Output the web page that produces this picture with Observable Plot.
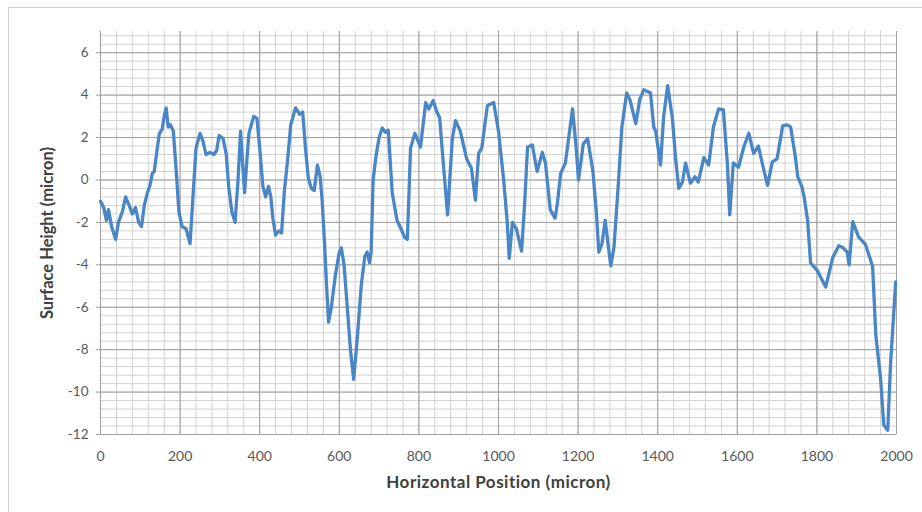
<!DOCTYPE html>
<html>
<head>
<meta charset="utf-8">
<script src="https://cdn.jsdelivr.net/npm/d3@7"></script>
<script src="https://cdn.jsdelivr.net/npm/@observablehq/plot@0.6"></script>
<style>
  html, body { margin: 0; padding: 0; background: #fff; }
  #wrap { position: relative; width: 922px; height: 512px; overflow: hidden; }
  #border { position: absolute; left: 8px; top: 7px; width: 940px; height: 540px; border: 1px solid #d0d0d0; pointer-events: none; }
  #chart { position: absolute; left: 0; top: 0; }
</style>
</head>
<body>
<div id="wrap"><div id="border"></div><div id="chart"></div></div>
<script>
// Horizontal position (micron)
const positions = [
  0, 8, 15, 20, 28, 38, 45, 55, 63, 72,
  80, 88, 96, 103, 110, 118, 125, 130, 135, 142,
  148, 155, 160, 165, 170, 176, 183, 190, 197, 205,
  215, 225, 230, 240, 250, 258, 265, 275, 285, 292,
  298, 308, 316, 322, 330, 338, 345, 352, 358, 362,
  368, 373, 385, 393, 400, 408, 415, 422, 428, 433,
  440, 448, 455, 462, 470, 478, 490, 500, 508, 515,
  522, 530, 537, 545, 552, 557, 563, 568, 573, 580,
  590, 600, 605, 612, 620, 628, 636, 645, 655, 664,
  670, 676, 680, 685, 692, 700, 708, 716, 723, 733,
  745, 755, 764, 771, 779, 790, 804, 817, 825, 836,
  845, 852, 860, 872, 884, 892, 904, 920, 932, 942,
  950, 958, 972, 988, 1000, 1013, 1022, 1027, 1035, 1045,
  1058, 1066, 1073, 1085, 1097, 1110, 1118, 1130, 1142, 1148,
  1156, 1168, 1186, 1195, 1201, 1213, 1224, 1237, 1246, 1252,
  1260, 1268, 1282, 1290, 1300, 1310, 1322, 1330, 1345, 1355,
  1365, 1382, 1390, 1395, 1407, 1415, 1425, 1437, 1445, 1453,
  1462, 1470, 1482, 1494, 1502, 1516, 1528, 1540, 1553, 1565,
  1575, 1581, 1590, 1603, 1617, 1629, 1641, 1653, 1665, 1676,
  1688, 1700, 1714, 1725, 1734, 1745, 1752, 1762, 1768, 1777,
  1784, 1802, 1822, 1840, 1855, 1866, 1876, 1881, 1890, 1905,
  1922, 1940, 1948, 1960, 1968, 1978, 1985, 1998
];
// Surface height (micron)
const heights = [
  -1.0, -1.3, -1.9, -1.4, -2.2, -2.8, -2.0, -1.5, -0.8, -1.2,
  -1.6, -1.3, -2.0, -2.2, -1.2, -0.6, -0.2, 0.3, 0.4, 1.4,
  2.2, 2.4, 3.0, 3.4, 2.5, 2.6, 2.3, 0.5, -1.5, -2.2,
  -2.3, -3.0, -1.5, 1.5, 2.2, 1.8, 1.2, 1.3, 1.2, 1.4,
  2.1, 1.95, 1.2, -0.3, -1.5, -2.0, -0.2, 2.3, 0.5, -0.6,
  1.0, 2.2, 3.0, 2.9, 1.5, -0.3, -0.8, -0.3, -0.8, -1.8,
  -2.6, -2.4, -2.5, -0.5, 0.9, 2.6, 3.4, 3.1, 3.2, 1.5,
  0.1, -0.4, -0.5, 0.7, 0.15, -1.0, -3.0, -5.0, -6.7, -6.0,
  -4.5, -3.4, -3.2, -4.0, -6.0, -8.0, -9.4, -7.5, -5.0, -3.6,
  -3.4, -3.9, -3.4, 0.0, 1.1, 2.0, 2.45, 2.25, 2.35, -0.6,
  -1.9, -2.3, -2.7, -2.8, 1.5, 2.2, 1.55, 3.65, 3.35, 3.75,
  3.2, 2.95, 1.1, -1.65, 1.95, 2.8, 2.3, 1.0, 0.55, -0.95,
  1.25, 1.5, 3.5, 3.65, 2.3, 0.0, -2.0, -3.7, -2.0, -2.3,
  -3.35, -1.0, 1.55, 1.65, 0.4, 1.3, 0.8, -1.4, -1.8, -1.1,
  0.3, 0.8, 3.35, 1.55, 0.0, 1.7, 1.95, 0.45, -1.55, -3.4,
  -3.0, -1.9, -4.05, -3.2, -0.5, 2.5, 4.1, 3.8, 2.65, 3.8,
  4.25, 4.1, 2.5, 2.3, 0.7, 3.0, 4.45, 2.9, 1.0, -0.4,
  -0.1, 0.8, -0.15, 0.15, -0.1, 1.05, 0.7, 2.5, 3.35, 3.3,
  0.8, -1.65, 0.8, 0.6, 1.6, 2.2, 1.25, 1.6, 0.6, -0.25,
  0.85, 1.0, 2.55, 2.6, 2.5, 1.2, 0.15, -0.3, -0.8, -1.96,
  -3.9, -4.3, -5.05, -3.65, -3.1, -3.2, -3.4, -4.0, -1.96, -2.7,
  -3.04, -4.07, -7.3, -9.35, -11.55, -11.8, -8.7, -4.8
];
const xTicks = [0, 200, 400, 600, 800, 1000, 1200, 1400, 1600, 1800, 2000];
const yTicks = [-12, -10, -8, -6, -4, -2, 0, 2, 4, 6];
const xMinor = d3.range(0, 2001, 40);
const yMinor = d3.range(0, 48).map(i => -12 + i * 0.4);
const xTitle = "Horizontal Position (micron)";
const yTitle = "Surface Height (micron)";

const data = positions.map((p, i) => ({x: p, y: heights[i]}));

const font = "Lato, 'Open Sans', 'Liberation Sans', sans-serif";
const plain = d => String(d);
const chart = Plot.plot({
  width: 922,
  height: 512,
  marginLeft: 100,
  marginRight: 26,
  marginTop: 31,
  marginBottom: 78,
  style: {fontFamily: font, background: "transparent"},
  x: {domain: [0, 2000]},
  y: {domain: [-12, 7]},
  marks: [
    Plot.ruleX(xMinor, {stroke: "#d2d2d2", strokeWidth: 1}),
    Plot.ruleY(yMinor, {stroke: "#d2d2d2", strokeWidth: 1}),
    Plot.ruleX(xTicks, {stroke: "#9e9e9e", strokeWidth: 1}),
    Plot.ruleY(yTicks, {stroke: "#9e9e9e", strokeWidth: 1}),
    Plot.line(data, {x: "x", y: "y", stroke: "#4a86c6", strokeWidth: 3.3, strokeLinejoin: "round", curve: "linear"}),
    Plot.axisY({ticks: yTicks, tickFormat: plain, tickSize: 4, tickPadding: 8, fontSize: 13.5, color: "#595959", stroke: "#9e9e9e", label: null}),
    Plot.axisX({ticks: xTicks, tickFormat: plain, tickSize: 0, tickPadding: 17, fontSize: 14, color: "#595959", label: null}),
    Plot.text([xTitle], {frameAnchor: "bottom", dy: 53, fontSize: 17, fontWeight: "bold", fill: "#404040"}),
    Plot.text([yTitle], {frameAnchor: "left", textAnchor: "middle", dx: -53, rotate: -90, fontSize: 16.5, fontWeight: "bold", fill: "#404040"})
  ]
});
// slight horizontal widening of the x title (style only)
d3.select(chart).selectAll("text").filter(function () { return this.textContent === xTitle; })
  .style("letter-spacing", "0.5px");
document.getElementById("chart").appendChild(chart);
</script>
</body>
</html>
